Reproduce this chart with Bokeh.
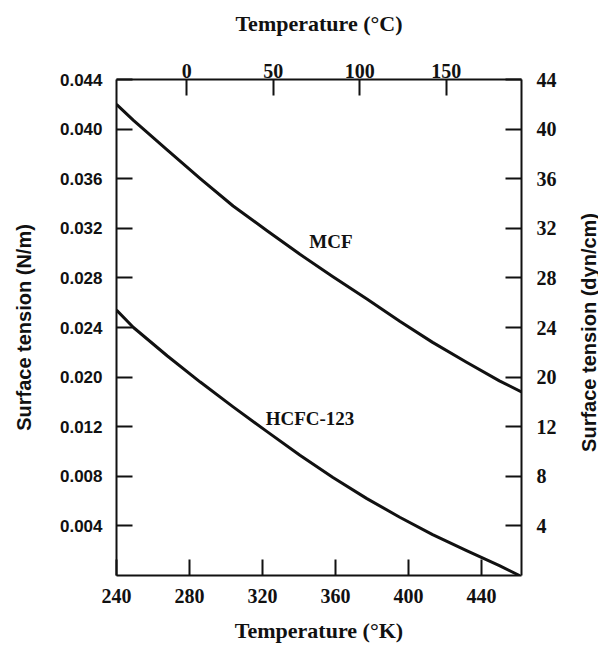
import math
from bokeh.plotting import figure
from bokeh.layouts import row
from bokeh.models import Range1d, LinearAxis, FixedTicker, Label
from bokeh.embed import file_html
from bokeh.resources import INLINE

# ---- data ----
mcf_temp_k = [240.0, 249.3, 267.9, 285.9, 303.9, 322.5, 340.5, 358.6, 377.2, 395.2, 413.2, 431.8, 449.8, 461.9]
mcf_tension = [0.0420, 0.0407, 0.0383, 0.0360, 0.0338, 0.0318, 0.0299, 0.0281, 0.0263, 0.0245, 0.0228, 0.0212, 0.0197, 0.0188]

hcfc_temp_k = [240.0, 249.3, 267.9, 285.9, 303.9, 322.5, 340.5, 358.6, 377.2, 395.2, 413.2, 431.8, 449.8, 460.8]
hcfc_tension = [0.0254, 0.0240, 0.0217, 0.0196, 0.0176, 0.0156, 0.0137, 0.0119, 0.0102, 0.0087, 0.0073, 0.0060, 0.0048, 0.0040]

x_ticks_k = [240, 280, 320, 360, 400, 440]
x_ticks_c = [0, 50, 100, 150]
y_ticks = [0.008, 0.012, 0.016, 0.020, 0.024, 0.028, 0.032, 0.036, 0.040, 0.044]
y_labels_left = ["0.004", "0.008", "0.012", "0.020", "0.024", "0.028", "0.032", "0.036", "0.040", "0.044"]
y_labels_right = ["4", "8", "12", "20", "24", "28", "32", "36", "40", "44"]

SERIF = "Liberation Serif"
SANS = "Liberation Sans"

p = figure(width=576, height=649,
           x_range=Range1d(240, 461.9), y_range=Range1d(0.004, 0.044),
           output_backend="svg", toolbar_location=None,
           x_axis_location=None, y_axis_location=None,
           min_border_left=116, min_border_right=55,
           min_border_top=79, min_border_bottom=74)
p.extra_x_ranges = {"C": Range1d(-40.5, 193.4)}
p.grid.visible = False
p.outline_line_color = None
p.background_fill_color = "white"
p.border_fill_color = "white"


def style(ax, font, size, title_font, title_size, lab_stand, title_stand):
    ax.axis_line_color = "#111111"
    ax.axis_line_width = 2
    ax.major_tick_line_color = "#111111"
    ax.major_tick_line_width = 2
    ax.major_tick_in = 16
    ax.major_tick_out = 0
    ax.minor_tick_line_color = None
    ax.major_label_text_font = font
    ax.major_label_text_font_size = size
    ax.major_label_text_font_style = "bold"
    ax.major_label_text_color = "#111111"
    ax.major_label_standoff = lab_stand
    ax.axis_label_text_font = title_font
    ax.axis_label_text_font_size = title_size
    ax.axis_label_text_font_style = "bold"
    ax.axis_label_text_color = "#111111"
    ax.axis_label_standoff = title_stand


bottom = LinearAxis(ticker=FixedTicker(ticks=x_ticks_k), axis_label="Temperature (°K)")
style(bottom, SERIF, "20px", SERIF, "22px", 13, 12)
p.add_layout(bottom, "below")

top = LinearAxis(x_range_name="C", ticker=FixedTicker(ticks=x_ticks_c), axis_label="Temperature (°C)")
style(top, SERIF, "20px", SERIF, "22px", 2, 25)
p.add_layout(top, "above")

left = LinearAxis(ticker=FixedTicker(ticks=y_ticks), axis_label="Surface tension (N/m)",
                  major_label_overrides={t: s for t, s in zip(y_ticks, y_labels_left)})
style(left, SANS, "17px", SANS, "20px", 14, 22)
p.add_layout(left, "left")

right = LinearAxis(ticker=FixedTicker(ticks=y_ticks),
                   major_label_overrides={t: s for t, s in zip(y_ticks, y_labels_right)})
style(right, SERIF, "20px", SANS, "20px", 15, 16)
p.add_layout(right, "right")

p.line(mcf_temp_k, mcf_tension, line_color="#111111", line_width=3, line_join="round")
p.line(hcfc_temp_k, hcfc_tension, line_color="#111111", line_width=3, line_join="round")

for txt, lx, ly in [("MCF", 357.5, 0.0309), ("HCFC-123", 346.0, 0.0167)]:
    p.add_layout(Label(x=lx, y=ly, text=txt, text_font=SERIF, text_font_size="19px",
                       text_font_style="bold", text_color="#111111",
                       text_align="center", text_baseline="middle"))

# narrow strip holding the right-hand title (reads bottom to top)
side = figure(width=22, height=649, x_range=Range1d(0, 1), y_range=Range1d(0, 1),
              output_backend="svg", toolbar_location=None,
              x_axis_location=None, y_axis_location=None,
              min_border_left=0, min_border_right=0, min_border_top=0, min_border_bottom=0)
side.grid.visible = False
side.outline_line_color = None
side.background_fill_color = "white"
side.border_fill_color = "white"
side.add_layout(Label(x=0.55, y=0.49, text="Surface tension (dyn/cm)", angle=math.pi / 2,
                      text_font=SANS, text_font_size="20px", text_font_style="bold",
                      text_color="#111111", text_align="center", text_baseline="middle"))

layout = row(p, side, spacing=0)
open("out.html", "w").write(file_html(layout, INLINE))
